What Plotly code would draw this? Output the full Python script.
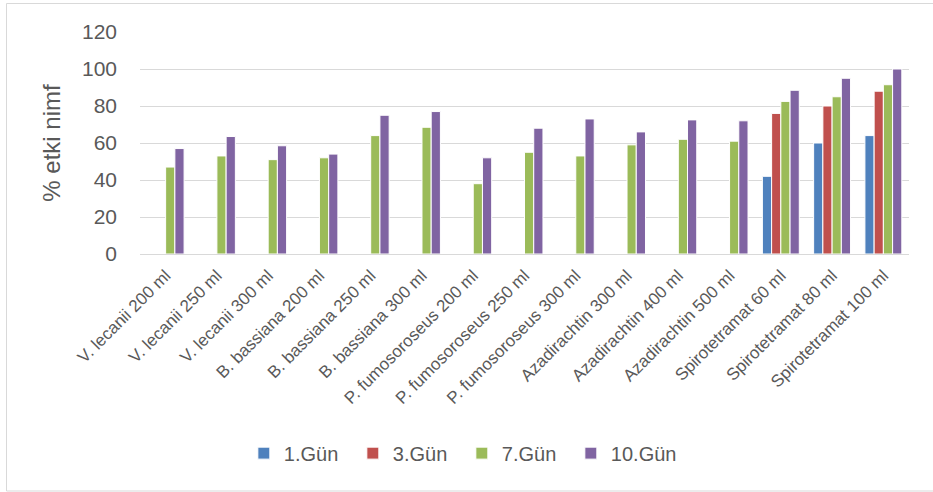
import plotly.graph_objects as go

categories = [
    "V. lecanii 200 ml", "V. lecanii 250 ml", "V. lecanii 300 ml",
    "B. bassiana 200 ml", "B. bassiana 250 ml", "B. bassiana 300 ml",
    "P. fumosoroseus 200 ml", "P. fumosoroseus 250 ml", "P. fumosoroseus 300 ml",
    "Azadirachtin 300 ml", "Azadirachtin 400 ml", "Azadirachtin 500 ml",
    "Spirotetramat 60 ml", "Spirotetramat 80 ml", "Spirotetramat 100 ml",
]
gun1 = [None] * 12 + [42, 60, 64]
gun3 = [None] * 12 + [76, 80, 88]
gun7 = [47, 53, 51, 52, 64, 68.5, 38, 55, 53, 59, 62, 61, 82.5, 85, 91.5]
gun10 = [57, 63.5, 58.5, 54, 75, 77, 52, 68, 73, 66, 72.5, 72, 88.5, 95, 100]

series = [
    ("1.Gün", gun1, "#4F81BD"),
    ("3.Gün", gun3, "#C0504D"),
    ("7.Gün", gun7, "#9BBB59"),
    ("10.Gün", gun10, "#8064A2"),
]

W, H = 933, 492
L, R, T, B = 140, 24, 32, 238
FONT = "Liberation Sans"
GREY = "#595959"

fig = go.Figure()
for name, vals, color in series:
    fig.add_trace(go.Bar(
        name=name, x=categories, y=vals,
        marker=dict(color=color, line=dict(color="white", width=1)),
    ))

pw, ph = W - L - R, H - T - B


def px_x(p):
    return (p - L) / pw


def px_y(p):
    return (H - B - p) / ph


fig.update_layout(
    width=W, height=H,
    margin=dict(l=L, r=R, t=T, b=B),
    paper_bgcolor="white", plot_bgcolor="white",
    barmode="group", bargap=0.28, bargroupgap=0.0,
    font=dict(family=FONT, color=GREY),
    xaxis=dict(
        tickangle=-45, tickfont=dict(size=17, color=GREY),
        showgrid=False, showline=True, linecolor="#D9D9D9", linewidth=1,
        ticks="", ticklabelstandoff=4,
    ),
    yaxis=dict(
        range=[0, 120], dtick=20, tickfont=dict(size=21, color=GREY),
        showgrid=True, gridcolor="#D9D9D9", gridwidth=1,
        zeroline=False, showline=False, ticks="", ticklen=0,
        ticklabelstandoff=22,
        title=dict(text="% etki nimf", font=dict(size=24, color=GREY), standoff=14),
    ),
    legend=dict(
        orientation="h", xref="container", yref="container",
        x=0.495, xanchor="center", y=0.079, yanchor="middle",
        font=dict(size=20, color=GREY),
        entrywidth=64, entrywidthmode="pixels",
    ),
    shapes=[dict(
        type="rect", xref="paper", yref="paper",
        x0=px_x(6.5), x1=px_x(945), y0=px_y(491), y1=px_y(3.5),
        line=dict(color="#D9D9D9", width=1), fillcolor="rgba(0,0,0,0)",
        layer="below",
    )],
)

fig.write_html("out.html")
